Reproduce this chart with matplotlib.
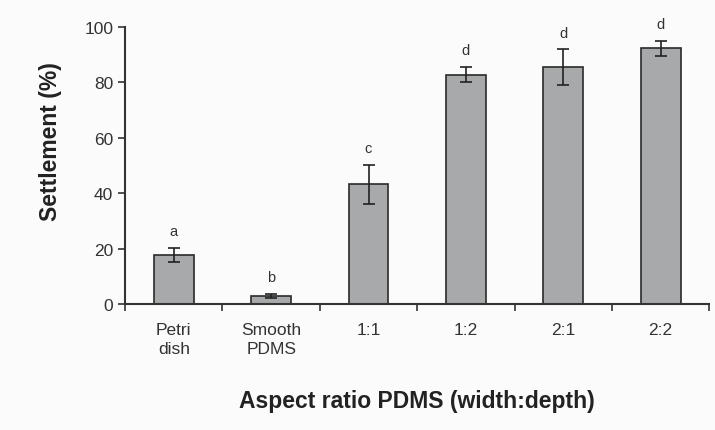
import numpy as np
import matplotlib
matplotlib.use("Agg")
import matplotlib.pyplot as plt

plt.rcParams['font.family'] = ['Liberation Sans', 'DejaVu Sans']

# data
groups = ['Petri\ndish', 'Smooth\nPDMS', '1:1', '1:2', '2:1', '2:2']
settlement = [17.8, 3.0, 43.3, 82.8, 85.4, 92.4]
err = [2.5, 0.7, 7.0, 2.7, 6.5, 2.7]
letters = ['a', 'b', 'c', 'd', 'd', 'd']

fig = plt.figure(figsize=(7.15, 4.31), dpi=100, facecolor='#fbfbfb')
ax = fig.add_axes([0.175, 0.292, 0.817, 0.643])
ax.set_facecolor('#fbfbfb')

x = np.arange(len(groups))
ax.bar(x, settlement, width=0.41, color='#a7a9ab', edgecolor='#2a2a2a', linewidth=1.2,
       yerr=err, capsize=4, error_kw=dict(ecolor='#222222', elinewidth=1.2, capthick=1.2),
       zorder=2)

# significance letters above the error bars
for xi, v, e, l in zip(x, settlement, err, letters):
    ax.text(xi, v + e + 3.5, l, ha='center', va='bottom', fontsize=10.5, color='#333333')

ax.set_xlim(-0.5, len(groups) - 0.5)
ax.set_ylim(0, 100)
ax.set_yticks([0, 20, 40, 60, 80, 100])

# category labels centred, ticks at boundaries
ax.set_xticks(x)
ax.set_xticklabels(groups, fontsize=12.5, color='#333333', linespacing=1.3)
ax.tick_params(axis='x', length=0, pad=13)
ax.set_xticks(np.arange(len(groups) + 1) - 0.5, minor=True)
ax.tick_params(axis='x', which='minor', length=5, width=1.2, direction='out', color='#333333')
ax.tick_params(axis='y', length=5, width=1.2, labelsize=12.5, labelcolor='#333333', color='#333333')

for s in ['top', 'right']:
    ax.spines[s].set_visible(False)
for s in ['left', 'bottom']:
    ax.spines[s].set_linewidth(1.5)
    ax.spines[s].set_color('#333333')

ax.set_ylabel('Settlement (%)', fontsize=16.5, fontweight='bold', color='#222222',
              va='center')
ax.yaxis.set_label_coords(-0.127, 0.59)
ax.set_xlabel('Aspect ratio PDMS (width:depth)', fontsize=16.5, fontweight='bold', labelpad=24, color='#222222')

fig.savefig('out.png', dpi=100, facecolor=fig.get_facecolor())
